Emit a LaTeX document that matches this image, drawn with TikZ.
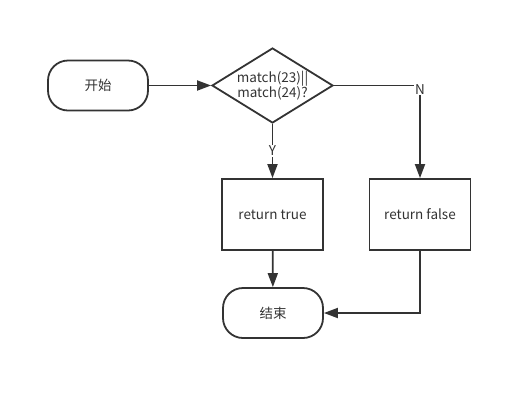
\documentclass[tikz,border=0pt]{standalone}
\usepackage{fontspec}
\setmainfont{Noto Sans CJK SC}
\usetikzlibrary{shapes.geometric,arrows.meta,positioning}
\definecolor{linegray}{HTML}{333333}
\tikzset
{
    termnode/.style = {rectangle, rounded corners=20pt, draw=linegray, line width=1.8pt, align=center, minimum width=100pt, minimum height=50pt},
    decnode/.style  = {diamond, draw=linegray, line width=1.8pt, align=center, aspect=1.6, minimum width=121pt, minimum height=75pt, inner sep=-3pt},
    procnode/.style = {rectangle, draw=linegray, line width=1.8pt, align=center, minimum width=101pt, minimum height=71pt},
    flow/.style     = {draw=linegray, line width=1.8pt, -{Triangle[length=14pt,width=10pt]}},
    flowlabel/.style = {fill=white, inner sep=1pt}
}

\begin{document}
\begin{tikzpicture}
		[x=1pt, y=-1pt, font=\fontsize{13.5}{15.5}\selectfont, text=linegray]
		\useasboundingbox (0,0) rectangle (532,400);
		\node[termnode] (start) at (98,85.5) {开始};
		\node[decnode] (cond) at (272.5,85.5) {match(23)||\\match(24)?};
		\node[procnode] (rtrue) at (272.5,214.5) {return true};
		\node[procnode] (rfalse) at (420,214.5) {return false};
		\node[termnode] (stop) at (273,313) {结束};
		\draw[flow] (start) -- (cond);
		\draw[flow] (cond) -- node[flowlabel]{Y} (rtrue);
		\draw[flow] (cond.east) -| node[flowlabel, pos=0.5, yshift=-4pt]{N} (rfalse);
		\draw[flow] (rtrue) -- (stop);
		\draw[flow] (rfalse.south) |- (stop.east);
		\end{tikzpicture}
\end{document}
